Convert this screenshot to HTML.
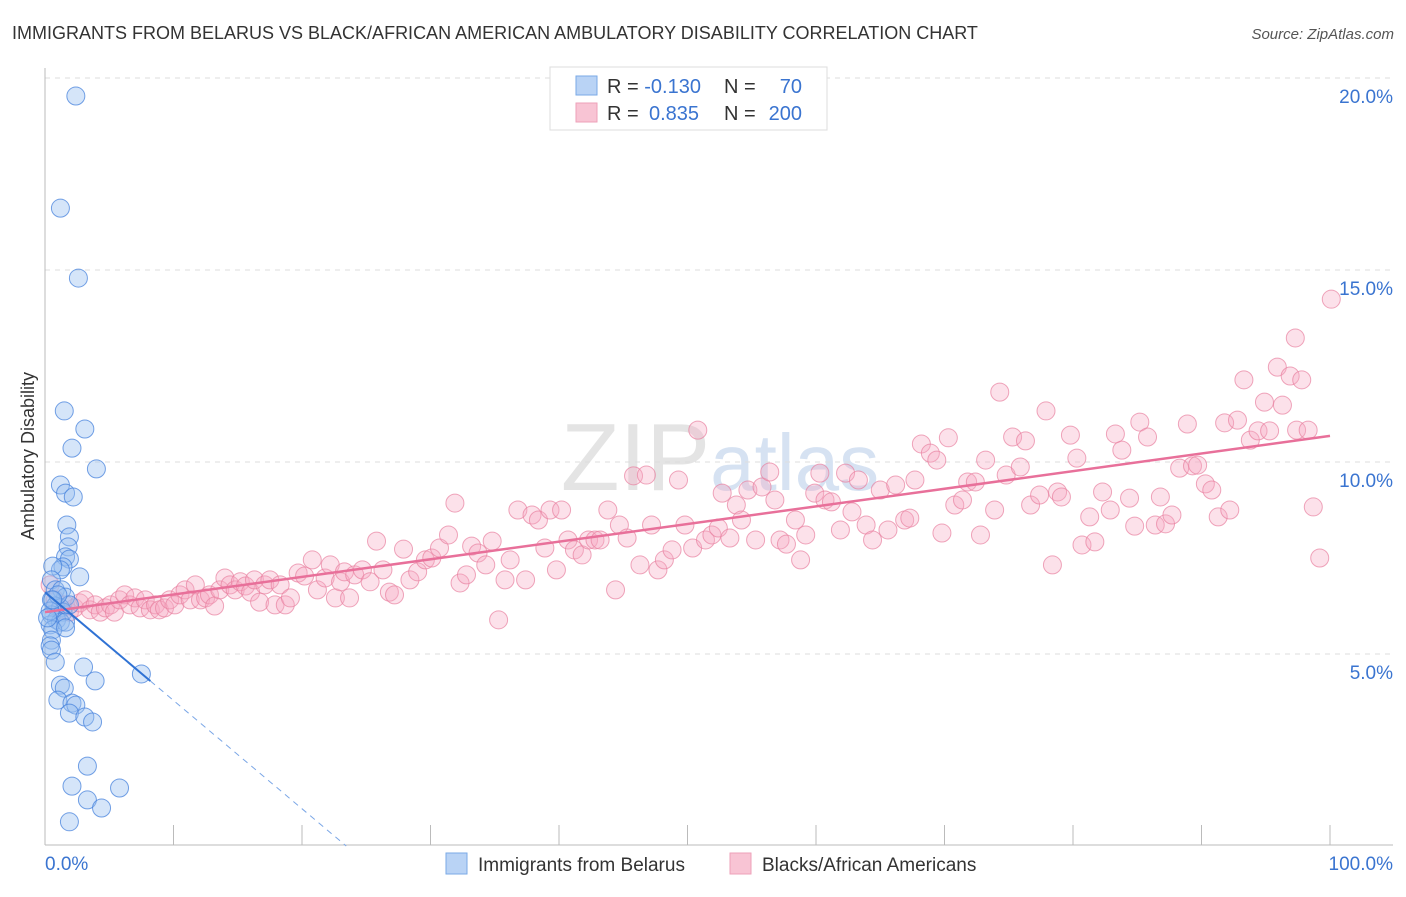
<!DOCTYPE html>
<html><head><meta charset="utf-8"><style>
body{margin:0;background:#fff;font-family:"Liberation Sans",sans-serif}
svg text{font-family:"Liberation Sans",sans-serif}
</style></head><body>
<svg id="chart" width="1406" height="892" viewBox="0 0 1406 892" xmlns="http://www.w3.org/2000/svg">
<text x="12" y="39" font-size="18" fill="#333">IMMIGRANTS FROM BELARUS VS BLACK/AFRICAN AMERICAN AMBULATORY DISABILITY CORRELATION CHART</text>
<text x="1394" y="39" font-size="15" fill="#555" text-anchor="end" font-style="italic">Source: ZipAtlas.com</text>
<text x="720" y="490" font-size="96" fill="#e4e4e4" text-anchor="middle" font-family="Liberation Serif">ZIP<tspan fill="#d6e2f2" font-family="Liberation Sans" font-size="80">atlas</tspan></text>
<g id="grid"></g>
<g id="axes"></g>
<g id="pts"></g>
<g id="lines"></g>
<text transform="translate(34,456) rotate(-90)" font-size="18" fill="#333" text-anchor="middle">Ambulatory Disability</text>
<g>
<rect x="550" y="67" width="277" height="63" fill="#fff" stroke="#ddd"/>
<rect x="576" y="76" width="21" height="19" fill="#b9d3f5" stroke="#7aaae6"/>
<rect x="576" y="103" width="21" height="19" fill="#f8c4d4" stroke="#eea1b9"/>
<text x="607" y="93" font-size="20" fill="#333">R = <tspan fill="#3a74d0">-0.130</tspan></text>
<text x="724" y="93" font-size="20" fill="#333">N = </text><text x="802" y="93" font-size="20" fill="#3a74d0" text-anchor="end">70</text>
<text x="607" y="120" font-size="20" fill="#333">R = </text><text x="649" y="120" font-size="20" fill="#3a74d0">0.835</text>
<text x="724" y="120" font-size="20" fill="#333">N = </text><text x="802" y="120" font-size="20" fill="#3a74d0" text-anchor="end">200</text>
</g>
<g>
<rect x="446" y="853" width="21" height="21" fill="#b9d3f5" stroke="#7aaae6"/>
<text x="478" y="871" font-size="19" fill="#333">Immigrants from Belarus</text>
<rect x="730" y="853" width="21" height="21" fill="#f8c4d4" stroke="#eea1b9"/>
<text x="762" y="871" font-size="19" fill="#333">Blacks/African Americans</text>
</g>
</svg>
<script>
const xTickVals=[0,10,20,30,40,50,60,70,80,90,100];
const yTickVals=[5,10,15,20];
const yTickLabels=["5.0%","10.0%","15.0%","20.0%"];
const xEndLabels=["0.0%","100.0%"];
const blueX=[2.4,1.2,2.6,1.5,3.1,2.1,4.0,1.2,1.6,2.2,1.7,1.9,1.8,1.6,1.9,1.4,1.2,2.7,0.6,0.5,0.8,1.3,1.6,0.5,0.8,1.2,1.4,1.9,0.5,0.9,1.2,1.6,0.4,0.6,1.6,0.5,0.4,0.5,0.8,3.0,7.5,3.9,1.2,1.5,1.0,2.1,2.4,1.9,3.1,3.7,3.3,2.1,5.8,3.3,4.4,1.9,0.4,1.0,0.2,0.6];
const blueY=[19.53,16.61,14.79,11.33,10.86,10.36,9.82,9.40,9.19,9.09,8.36,8.05,7.79,7.53,7.47,7.27,7.19,7.01,7.29,6.93,6.67,6.67,6.48,6.41,6.25,6.20,6.09,6.28,6.02,5.89,5.83,5.83,5.76,5.63,5.68,5.36,5.21,5.10,4.79,4.66,4.48,4.30,4.19,4.11,3.80,3.72,3.67,3.46,3.36,3.23,2.08,1.56,1.51,1.20,0.99,0.63,6.12,6.54,5.94,6.41];
const pinkX=[0.4,0.8,1.2,1.6,1.9,2.3,2.7,3.1,3.5,3.9,4.3,4.7,5.1,5.4,5.8,6.2,6.6,7.0,7.4,7.8,8.2,8.6,8.9,9.3,9.7,10.1,10.5,10.9,11.3,11.7,12.1,12.5,12.8,13.2,13.6,14.0,14.4,14.8,15.2,15.6,16.0,16.3,16.7,17.1,17.5,17.9,18.3,18.7,19.1,19.7,20.2,20.8,21.2,21.8,22.2,22.6,23.0,23.3,23.7,24.1,24.7,25.3,25.8,26.3,26.8,27.2,27.9,28.4,29.0,29.6,30.1,30.7,31.4,31.9,32.3,32.8,33.2,33.7,34.3,34.8,35.3,35.8,36.2,36.8,37.4,37.9,38.4,38.9,39.3,39.8,40.2,40.7,41.2,41.8,42.3,42.8,43.2,43.8,44.4,44.7,45.3,45.8,46.3,46.8,47.2,47.7,48.2,48.8,49.3,49.8,50.4,50.8,51.4,51.9,52.4,52.7,53.3,53.8,54.2,54.7,55.3,55.8,56.4,56.8,57.2,57.7,58.4,58.8,59.2,59.9,60.3,60.7,61.2,61.9,62.3,62.8,63.3,63.9,64.4,65.0,65.6,66.2,66.9,67.3,67.7,68.2,68.9,69.4,69.8,70.3,70.8,71.4,71.8,72.4,72.8,73.2,73.9,74.3,74.8,75.3,75.9,76.3,76.7,77.4,77.9,78.4,78.8,79.1,79.8,80.3,80.7,81.3,81.7,82.3,82.9,83.3,83.8,84.4,84.8,85.2,85.8,86.4,86.8,87.2,87.7,88.3,88.9,89.3,89.7,90.3,90.8,91.3,91.8,92.2,92.8,93.3,93.8,94.4,94.9,95.3,95.9,96.3,96.9,97.4,97.8,98.3,98.7,99.2,97.3,100.1];
const pinkY=[6.80,6.41,6.15,6.28,6.09,6.20,6.33,6.41,6.15,6.28,6.09,6.20,6.28,6.09,6.41,6.54,6.28,6.46,6.20,6.41,6.15,6.28,6.15,6.20,6.41,6.28,6.54,6.67,6.41,6.80,6.41,6.46,6.54,6.25,6.67,6.98,6.80,6.67,6.88,6.77,6.61,6.93,6.35,6.80,6.93,6.28,6.80,6.28,6.46,7.11,7.03,7.45,6.67,6.98,7.32,6.46,6.88,7.14,6.46,7.06,7.19,6.88,7.94,7.19,6.61,6.54,7.73,6.93,7.14,7.45,7.50,7.76,8.10,8.93,6.85,7.06,7.81,7.63,7.32,7.94,5.89,6.93,7.45,8.75,6.93,8.62,8.49,7.76,8.75,7.19,8.75,7.97,7.71,7.58,7.97,7.97,7.97,8.75,6.67,8.36,8.02,9.64,7.32,9.66,8.36,7.19,7.45,7.71,9.53,8.36,7.76,10.83,7.97,8.10,8.28,9.19,8.02,8.88,8.49,9.27,7.97,9.35,9.74,9.01,7.97,7.86,8.49,7.45,8.10,9.19,9.71,9.01,8.96,8.23,9.71,8.70,9.53,8.36,7.97,9.27,8.23,9.40,8.49,8.54,9.53,10.47,10.23,10.05,8.15,10.63,8.88,9.01,9.48,9.48,8.10,10.05,8.75,11.82,9.66,10.65,9.87,10.55,8.88,9.14,11.33,7.32,9.22,9.09,10.70,10.10,7.84,8.57,7.92,9.22,8.75,10.73,10.31,9.06,8.33,11.04,10.65,8.36,9.09,8.39,8.62,9.84,10.99,9.90,9.92,9.43,9.27,8.57,11.02,8.75,11.09,12.14,10.57,10.81,11.56,10.81,12.47,11.48,12.24,10.83,12.14,10.83,8.83,7.50,13.23,14.24];
const pinkFit=[6.09,10.68];
const blueFit=[6.61,-0.282];
const blueSolidEnd=8.2;

const NS="http://www.w3.org/2000/svg";
const X0=45,X1=1330,YB=846,PXY=38.4;
function sx(v){return X0+v*(X1-X0)/100;}
function sy(v){return YB-v*PXY;}
function mk(tag,attrs,parent){const e=document.createElementNS(NS,tag);for(const k in attrs)e.setAttribute(k,attrs[k]);parent.appendChild(e);return e;}
const grid=document.getElementById('grid'),axes=document.getElementById('axes'),pts=document.getElementById('pts'),lines=document.getElementById('lines');
yTickVals.forEach((v,i)=>{
  const l=mk('line',{x1:X0,x2:1393,y1:sy(v),y2:sy(v),stroke:'#ddd','stroke-dasharray':'5,5'},grid);
  
  
  const t=mk('text',{x:1393,y:sy(v)+25,'font-size':19,fill:'#3a74d0','text-anchor':'end'},axes);
  t.textContent=yTickLabels[i];
  
  
});
const ax=mk('line',{x1:X0,x2:1393,y1:845,y2:845,stroke:'#bbb'},axes);


const ay=mk('line',{x1:X0,x2:X0,y1:68,y2:845,stroke:'#bbb'},axes);


xTickVals.forEach(v=>{
  const t=mk('line',{x1:sx(v),x2:sx(v),y1:825,y2:845,stroke:'#bbb'},axes);
  
  
});
const xl0=mk('text',{x:45,y:870,'font-size':19,fill:'#3a74d0'},axes);xl0.textContent=xEndLabels[0];


const xl1=mk('text',{x:1393,y:870,'font-size':19,fill:'#3a74d0','text-anchor':'end'},axes);xl1.textContent=xEndLabels[1];


pinkX.forEach((x,i)=>{
  const c=mk('circle',{cx:sx(x),cy:sy(pinkY[i]),r:9,fill:'rgba(246,170,194,0.35)',stroke:'rgba(232,128,160,0.7)','stroke-width':1},pts);
  
  
});
blueX.forEach((x,i)=>{
  const c=mk('circle',{cx:sx(x),cy:sy(blueY[i]),r:9,fill:'rgba(150,190,240,0.4)',stroke:'rgba(70,130,220,0.75)','stroke-width':1},pts);
  
  
});
const pl=mk('line',{x1:sx(0),y1:sy(pinkFit[0]),x2:sx(100),y2:sy(pinkFit[1]),stroke:'#e8709a','stroke-width':2.5},lines);


const bEnd=blueSolidEnd;
const bl=mk('line',{x1:sx(0),y1:sy(blueFit[0]),x2:sx(bEnd),y2:sy(blueFit[0]+blueFit[1]*bEnd),stroke:'#2f72d4','stroke-width':2},lines);


const zx=-blueFit[0]/blueFit[1];
const bd=mk('line',{x1:sx(bEnd),y1:sy(blueFit[0]+blueFit[1]*bEnd),x2:sx(zx),y2:sy(0),stroke:'#7aa6e6','stroke-width':1,'stroke-dasharray':'6,5'},lines);


</script>
</body></html>
